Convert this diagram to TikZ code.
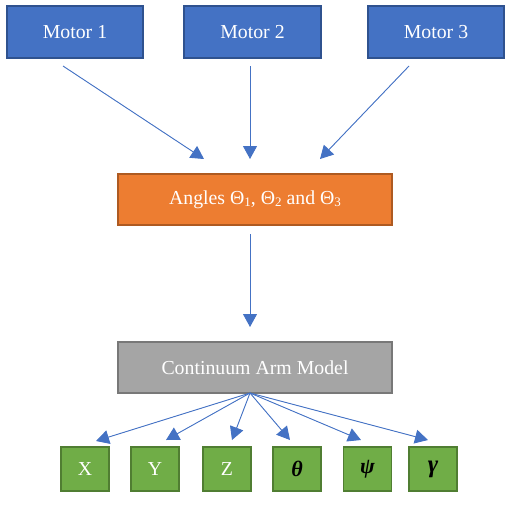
\documentclass[tikz,border=0pt]{standalone}
\usepackage{fontspec}
\setmainfont{Liberation Serif}
\usetikzlibrary{arrows.meta}
\definecolor{mblue}{HTML}{4472C4}
\definecolor{mblueb}{HTML}{2F528F}
\definecolor{morange}{HTML}{ED7D31}
\definecolor{morangeb}{HTML}{AE5A21}
\definecolor{mgray}{HTML}{A5A5A5}
\definecolor{mgrayb}{HTML}{787878}
\definecolor{mgreen}{HTML}{70AD47}
\definecolor{mgreenb}{HTML}{507E32}
\newcommand\sbs[1]{\raisebox{-0.12em}{\fontsize{13}{13}\selectfont #1}}
\begin{document}
\begin{tikzpicture}[x=1pt,y=-1pt,
  box/.style={draw, line width=1.4pt, inner sep=0pt, text=white,
    font=\fontsize{19.8}{22}\selectfont},
  motorbox/.style={box, fill=mblue, draw=mblueb, minimum width=136pt, minimum height=52pt},
  anglebox/.style={box, fill=morange, draw=morangeb, minimum width=274pt, minimum height=51pt},
  modelbox/.style={box, fill=mgray, draw=mgrayb, minimum width=274pt, minimum height=51pt},
  outbox/.style={box, fill=mgreen, draw=mgreenb, minimum width=48pt, minimum height=44pt},
  greek/.style={text=black, font=\fontsize{22}{22}\selectfont\bfseries\itshape},
  arr/.style={draw=mblue, line width=0.9pt, -{Triangle[length=13pt,width=14pt]}, fill=mblue}
]
\useasboundingbox (0,0) rectangle (513,504);
\node[motorbox] (m1) at (75,32) {Motor 1};
\node[motorbox, minimum width=137pt] (m2) at (252.5,32) {Motor 2};
\node[motorbox] (m3) at (436,32) {Motor 3};
\node[anglebox] (ang) at (255,199.5) {Angles Θ\sbs{1}, Θ\sbs{2} and Θ\sbs{3}};
\node[modelbox] (cam) at (255,367.5) {Continuum Arm Model};
\node[outbox] (ox) at (85,469) {X};
\node[outbox] (oy) at (155,469) {Y};
\node[outbox] (oz) at (227,469) {Z};
\node[outbox, greek] (oth) at (297,469) {θ};
\node[outbox, greek] (ops) at (367.5,469) {ψ};
\node[outbox, greek, font=\fontsize{25}{25}\selectfont\bfseries\itshape] (oga) at (433,469) {γ};
% arrow end points
\coordinate (s1) at (63,66);
\coordinate (s2) at (250,66);
\coordinate (s3) at (409,66);
\coordinate (t1) at (204,159);
\coordinate (t2) at (250,159);
\coordinate (t3) at (320,159);
\coordinate (sa) at (250,234);
\coordinate (ta) at (250,327);
\coordinate (sc) at (250,393);
\coordinate (tx) at (96,441);
\coordinate (ty) at (166,440);
\coordinate (tz) at (232,440);
\coordinate (tth) at (290,440);
\coordinate (tps) at (361,440);
\coordinate (tga) at (428,440);
\draw[arr] (s1) -- (t1);
\draw[arr] (s2) -- (t2);
\draw[arr] (s3) -- (t3);
\draw[arr] (sa) -- (ta);
\foreach \t in {tx,ty,tz,tth,tps,tga} \draw[arr] (sc) -- (\t);
\end{tikzpicture}
\end{document}
